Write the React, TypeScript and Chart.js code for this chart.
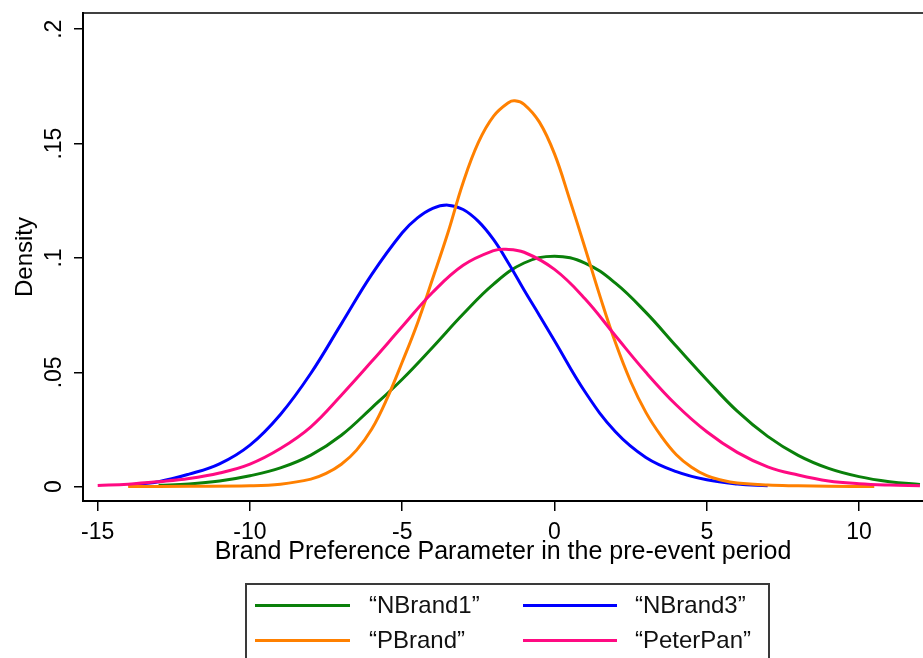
import React, { useEffect, useRef } from "react";
import { Chart, registerables } from "chart.js";

Chart.register(...registerables);

// ---- data ----
const seriesLabels = ["\u201CNBrand1\u201D", "\u201CNBrand3\u201D", "\u201CPBrand\u201D", "\u201CPeterPan\u201D"];
const seriesColors = ["#0a800a", "#0000ff", "#ff8000", "#ff0a82"];

const nbrand1X = [-13, -12, -11, -10, -9, -8, -7, -6, -5, -4, -3, -2, -1, 0, 1, 2, 3, 4, 5, 6, 7, 8, 9, 10, 11, 12];
const nbrand1Y = [0.0006, 0.0012, 0.0025, 0.0048, 0.0082, 0.0138, 0.0225, 0.0345, 0.047, 0.061, 0.0755, 0.0886, 0.0978, 0.1008, 0.0978, 0.089, 0.0762, 0.0614, 0.0468, 0.033, 0.022, 0.0137, 0.008, 0.0044, 0.0022, 0.001];

const nbrand3X = [-14, -13, -12, -11, -10, -9, -8, -7, -6, -5, -4.5, -4, -3.5, -3, -2.5, -2, -1.5, -1, -0.5, 0, 1, 2, 3, 4, 5, 6, 7];
const nbrand3Y = [0.0008, 0.0022, 0.0055, 0.01, 0.0182, 0.0316, 0.0496, 0.0712, 0.0928, 0.111, 0.1175, 0.1217, 0.1231, 0.1212, 0.116, 0.108, 0.0975, 0.086, 0.075, 0.0638, 0.0415, 0.024, 0.0128, 0.0066, 0.003, 0.0012, 0.0004];

const pbrandX = [-14, -12, -10, -9, -8, -7.5, -7, -6.5, -6, -5.5, -5, -4.5, -4, -3.5, -3, -2.5, -2, -1.5, -1.3, -1, -0.5, 0, 0.5, 1, 1.5, 2, 2.5, 3, 3.5, 4, 4.5, 5, 5.5, 6, 7, 8, 9, 10.5];
const pbrandY = [0.0001, 0.0002, 0.0004, 0.0011, 0.0033, 0.0058, 0.0098, 0.016, 0.0252, 0.0385, 0.0545, 0.0715, 0.091, 0.111, 0.133, 0.1505, 0.162, 0.168, 0.1687, 0.1672, 0.1595, 0.1455, 0.1255, 0.1045, 0.083, 0.063, 0.046, 0.0325, 0.0222, 0.014, 0.0085, 0.0048, 0.0028, 0.0016, 0.0007, 0.0004, 0.0002, 0.0001];

const peterPanX = [-15, -14, -13, -12, -11, -10, -9, -8, -7, -6, -5, -4, -3, -2, -1.6, -1, 0, 1, 2, 3, 4, 5, 6, 7, 8, 9, 10, 11, 12];
const peterPanY = [0.0005, 0.0011, 0.0022, 0.0036, 0.006, 0.0099, 0.0167, 0.0262, 0.04, 0.0548, 0.07, 0.085, 0.0968, 0.1032, 0.1038, 0.1025, 0.095, 0.0822, 0.066, 0.05, 0.0357, 0.024, 0.015, 0.0087, 0.0051, 0.0025, 0.0013, 0.0007, 0.0004];

const xTickValues = [-15, -10, -5, 0, 5, 10];
const yTickValues = [0, 0.05, 0.1, 0.15, 0.2];
const yTickLabels = ["0", ".05", ".1", ".15", ".2"];
const xAxisTitle = "Brand Preference Parameter in the pre-event period";
const yAxisTitle = "Density";

const W = 923;
const H = 658;
const FONT = "'Liberation Sans', Arial, sans-serif";

function toPoints(xs: number[], ys: number[]) {
  return xs.map((x, i) => ({ x, y: ys[i] }));
}

const framePlugin = {
  id: "stataFrame",
  afterDraw(chart: any) {
    const { ctx, chartArea, scales } = chart;
    const ys = scales.y;
    ctx.save();
    ctx.strokeStyle = "#000";
    ctx.lineWidth = 1.5;
    ctx.beginPath();
    ctx.moveTo(chartArea.left, chartArea.top);
    ctx.lineTo(chartArea.right, chartArea.top);
    ctx.stroke();
    ctx.fillStyle = "#000";
    ctx.font = `23px ${FONT}`;
    ctx.textAlign = "center";
    ctx.textBaseline = "middle";
    yTickValues.forEach((v, i) => {
      const py = ys.getPixelForValue(v);
      ctx.save();
      ctx.translate(55, py);
      ctx.rotate(-Math.PI / 2);
      ctx.fillText(yTickLabels[i], 0, 0);
      ctx.restore();
    });
    ctx.restore();
  },
};

export default function App() {
  const ref = useRef<HTMLCanvasElement | null>(null);

  useEffect(() => {
    if (!ref.current) return;
    const allX = [nbrand1X, nbrand3X, pbrandX, peterPanX];
    const allY = [nbrand1Y, nbrand3Y, pbrandY, peterPanY];
    const orders = [3, 2, 1, 0];
    const chart = new Chart(ref.current, {
      type: "scatter",
      data: {
        datasets: seriesLabels.map((label, i) => ({
          label,
          data: toPoints(allX[i], allY[i]),
          showLine: true,
          borderColor: seriesColors[i],
          backgroundColor: seriesColors[i],
          borderWidth: 3,
          pointRadius: 0,
          tension: 0.4,
          order: orders[i],
        })),
      },
      options: {
        animation: false,
        responsive: false,
        devicePixelRatio: 1,
        layout: { padding: { top: 13, left: 0, right: 0, bottom: 91 } },
        plugins: { legend: { display: false }, tooltip: { enabled: false } },
        scales: {
          x: {
            type: "linear",
            min: -15.483,
            max: 12.1,
            afterBuildTicks: (s: any) => {
              s.ticks = xTickValues.map((v) => ({ value: v }));
            },
            afterFit: (s: any) => {
              s.height = 66;
              s.paddingLeft = 0;
              s.paddingRight = 0;
            },
            grid: { display: true, drawOnChartArea: false, drawTicks: true, tickLength: 10, color: "#000", lineWidth: 1.5 },
            border: { display: true, color: "#000", width: 2 },
            ticks: {
              color: "#000",
              font: { family: FONT, size: 23 },
              padding: 8,
              maxRotation: 0,
              autoSkip: false,
              callback: (v: any) => String(v),
            },
            title: {
              display: true,
              text: xAxisTitle,
              color: "#000",
              font: { family: FONT, size: 25 },
              padding: { top: 0, bottom: 0 },
            },
          },
          y: {
            type: "linear",
            min: -0.00625,
            max: 0.2071,
            afterBuildTicks: (s: any) => {
              s.ticks = yTickValues.map((v) => ({ value: v }));
            },
            afterFit: (s: any) => {
              s.width = 83;
              s.paddingTop = 0;
              s.paddingBottom = 0;
            },
            grid: { display: true, drawOnChartArea: false, drawTicks: true, tickLength: 9, color: "#000", lineWidth: 1.5 },
            border: { display: true, color: "#000", width: 2 },
            ticks: { display: false },
            title: {
              display: true,
              text: yAxisTitle,
              color: "#000",
              font: { family: FONT, size: 24 },
              padding: { top: 11, bottom: 0 },
            },
          },
        },
      },
      plugins: [framePlugin],
    });
    return () => chart.destroy();
  }, []);

  const legendRows = [
    [0, 1],
    [2, 3],
  ];
  const rowY = [605, 640];
  const lineX = [255, 523];
  const lineW = [95, 94];
  const textX = [369, 635];

  return (
    <div style={{ position: "absolute", left: 0, top: 0, width: W, height: H, overflow: "hidden", background: "#fff" }}>
      <canvas ref={ref} width={W} height={H} style={{ position: "absolute", left: 0, top: 0, width: W, height: H }} />
      <div
        style={{
          position: "absolute",
          left: 245,
          top: 583,
          width: 525,
          height: 100,
          border: "2px solid #3a3a3a",
          boxSizing: "border-box",
        }}
      />
      {legendRows.map((row, r) =>
        row.map((si, c) => (
          <React.Fragment key={`${r}-${c}`}>
            <div
              style={{
                position: "absolute",
                left: lineX[c],
                top: rowY[r] - 1.5,
                width: lineW[c],
                height: 3,
                background: seriesColors[si],
              }}
            />
            <div
              style={{
                position: "absolute",
                left: textX[c],
                top: rowY[r] - 15,
                height: 30,
                lineHeight: "30px",
                fontFamily: FONT,
                fontSize: 24,
                color: "#111",
                whiteSpace: "nowrap",
              }}
            >
              {seriesLabels[si]}
            </div>
          </React.Fragment>
        ))
      )}
    </div>
  );
}
